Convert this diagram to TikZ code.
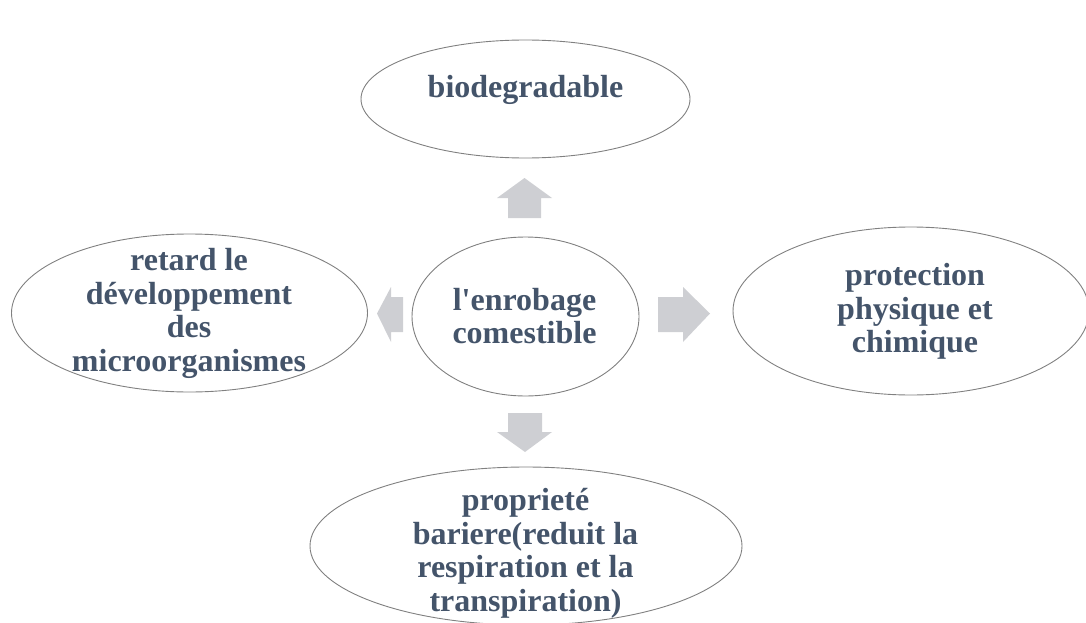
\documentclass[tikz,border=0pt]{standalone}
\usepackage{fontspec}
\setmainfont{Liberation Serif}
\usetikzlibrary{shapes.geometric}
\definecolor{txt}{HTML}{44546A}
\definecolor{edge}{HTML}{808080}
\definecolor{arrowfill}{RGB}{206,207,211}
\begin{document}
\begin{tikzpicture}[x=1pt,y=-1pt,
  oval/.style={ellipse, draw=edge, line width=0.9pt, inner sep=0pt},
  lbl/.style={text=txt, font=\bfseries\fontsize{32}{33.5}\selectfont, align=center, inner sep=0pt},
  blockarrow/.style={fill=arrowfill, draw=none}]
\useasboundingbox (0,0) rectangle (1086,623);
\clip (0,0) rectangle (1086,623);
% ellipses
\node[oval, minimum width=329pt, minimum height=118pt] (bio) at (525.5,99) {};
\node[oval, minimum width=227pt, minimum height=159pt] (core) at (525.5,316.5) {};
\node[oval, minimum width=356pt, minimum height=158pt] (retard) at (189.5,313) {};
\node[oval, minimum width=356pt, minimum height=168pt] (protect) at (911,311) {};
\node[oval, minimum width=432pt, minimum height=158pt] (barrier) at (526,546) {};
% labels
\node[lbl] (tbio) at (525.5,90) {biodegradable};
\node[lbl] (tcore) at (524.5,316) {l\textquotesingle enrobage\\comestible};
\node[lbl] (tretard) at (189,313.5) {retard le\\développement\\des\\microorganismes};
\node[lbl] (tprotect) at (915,311.5) {protection\\physique et\\chimique};
\node[lbl] (tbarrier) at (525.5,553.5) {proprieté\\bariere(reduit la\\respiration et la\\transpiration)};
% block arrows
\fill[blockarrow] (508,218) -- (508,198) -- (497,198) -- (524.5,178) -- (552,198) -- (541,198) -- (541,218) -- cycle;
\fill[blockarrow] (508,413) -- (542,413) -- (542,432) -- (552,432) -- (525,452) -- (497,432) -- (508,432) -- cycle;
\fill[blockarrow] (403,297) -- (391,297) -- (391,287) -- (377,313.5) -- (391,342) -- (391,332) -- (403,332) -- cycle;
\fill[blockarrow] (658,297) -- (683,297) -- (683,287) -- (710,313.5) -- (683,342) -- (683,332) -- (658,332) -- cycle;
\end{tikzpicture}
\end{document}
